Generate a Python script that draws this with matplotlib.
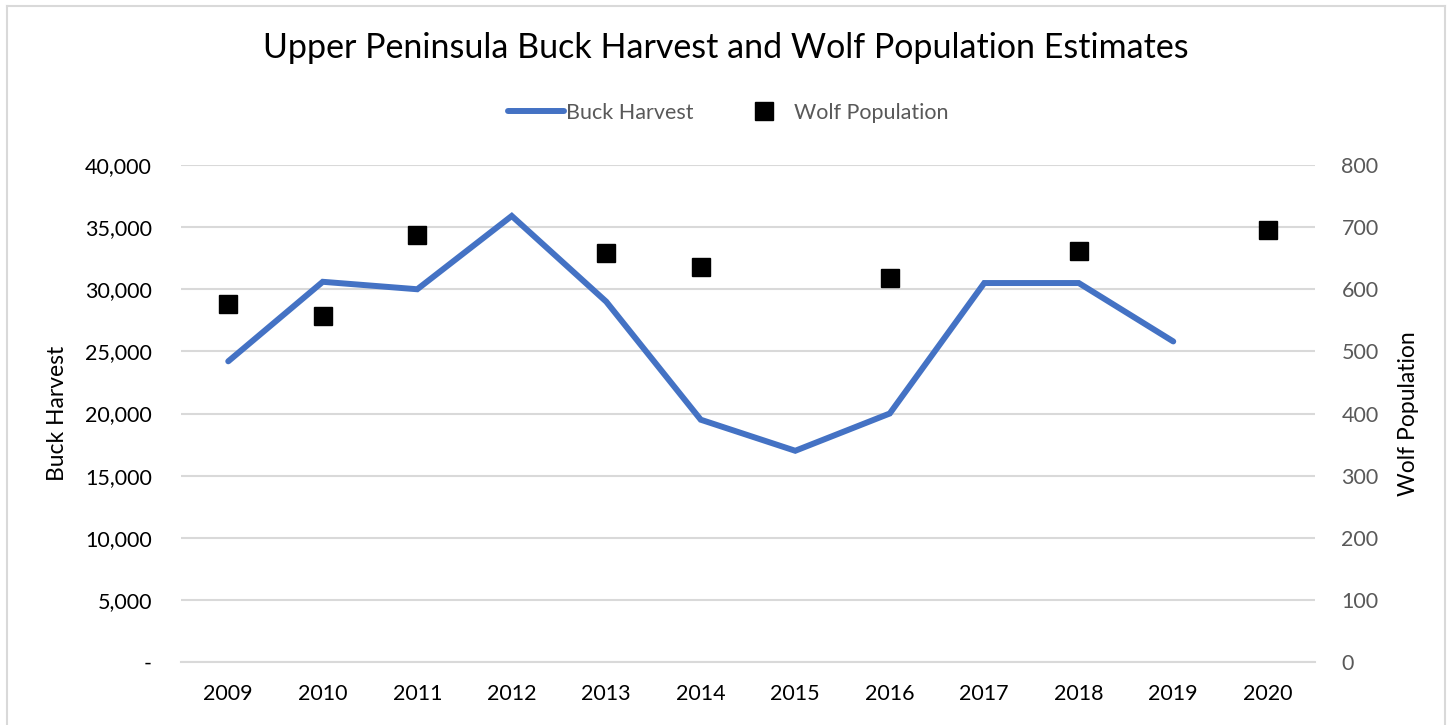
import numpy as np
import matplotlib
matplotlib.use("Agg")
import matplotlib.pyplot as plt
from matplotlib.lines import Line2D
from matplotlib.ticker import FuncFormatter

plt.rcParams['font.family'] = ['Lato', 'DejaVu Sans']

years = ['2009', '2010', '2011', '2012', '2013', '2014', '2015', '2016',
         '2017', '2018', '2019', '2020']
buck_harvest = [24200, 30600, 30000, 35900, 29000, 19500, 17000, 20000,
                30500, 30500, 25800, np.nan]
wolf_population = [577, 557, 687, np.nan, 658, 636, np.nan, 618,
                   np.nan, 662, np.nan, 695]

blue = '#4472c4'
grid_col = '#d9d9d9'
gray_txt = '#595959'

fig = plt.figure(figsize=(14.48, 7.25), dpi=100)
ax = fig.add_axes([181 / 1448, 1 - 662 / 725, (1315 - 181) / 1448, (662 - 165) / 725])
ax2 = ax.twinx()

x = np.arange(len(years))
ax.plot(x, buck_harvest, color=blue, lw=4.3, solid_capstyle='round',
        solid_joinstyle='miter', zorder=3)
ax2.plot(x, wolf_population, linestyle='None', marker='s', markersize=13,
         color='black', zorder=4)

ax.set_xlim(-0.5, len(years) - 0.5)
ax.set_ylim(0, 40000)
ax2.set_ylim(0, 800)
ax.set_yticks(np.arange(0, 40001, 5000))
ax2.set_yticks(np.arange(0, 801, 100))
ax.yaxis.set_major_formatter(FuncFormatter(lambda v, p: '-' if v == 0 else f'{int(v):,}'))
ax.set_xticks(x)
ax.set_xticklabels(years)

ax.grid(axis='y', color=grid_col, lw=1.5)
ax.set_axisbelow(True)
for a in (ax, ax2):
    for s in a.spines.values():
        s.set_visible(False)
    a.tick_params(length=0, labelsize=15.5)
ax.tick_params(axis='y', pad=21, colors='black')
ax.tick_params(axis='x', pad=16)
ax2.tick_params(axis='y', pad=19, labelcolor=gray_txt)
ax.spines['bottom'].set_visible(True)
ax.spines['bottom'].set_color(grid_col)
ax.spines['bottom'].set_linewidth(1.5)

ax.set_ylabel('Buck Harvest', fontsize=16.5, labelpad=12)
ax2.set_ylabel('Wolf Population', fontsize=16.5, labelpad=14)

fig.text(0.501, 1 - 48 / 725, 'Upper Peninsula Buck Harvest and Wolf Population Estimates',
         ha='center', va='center', fontsize=24.5)

handles = [Line2D([0], [0], color=blue, lw=4.3, solid_capstyle='round'),
           Line2D([0], [0], linestyle='None', marker='s', markersize=13, color='black')]
leg = fig.legend(handles, ['Buck Harvest', 'Wolf Population'], loc='center',
                 bbox_to_anchor=(0.503, 1 - 113 / 725), ncol=2, frameon=False,
                 fontsize=15.5, handlelength=2.6, handletextpad=0.1, columnspacing=2.0)
for t in leg.get_texts():
    t.set_color(gray_txt)

# chart frame
fig.add_artist(Line2D([7 / 1448, 7 / 1448], [0, 1 - 6 / 725], color=grid_col, lw=1.5,
                      transform=fig.transFigure))
fig.add_artist(Line2D([7 / 1448, 1445 / 1448], [1 - 6 / 725, 1 - 6 / 725], color=grid_col,
                      lw=1.5, transform=fig.transFigure))
fig.add_artist(Line2D([1445 / 1448, 1445 / 1448], [0, 1 - 6 / 725], color=grid_col, lw=1.5,
                      transform=fig.transFigure))

fig.savefig('out.png', dpi=100)
